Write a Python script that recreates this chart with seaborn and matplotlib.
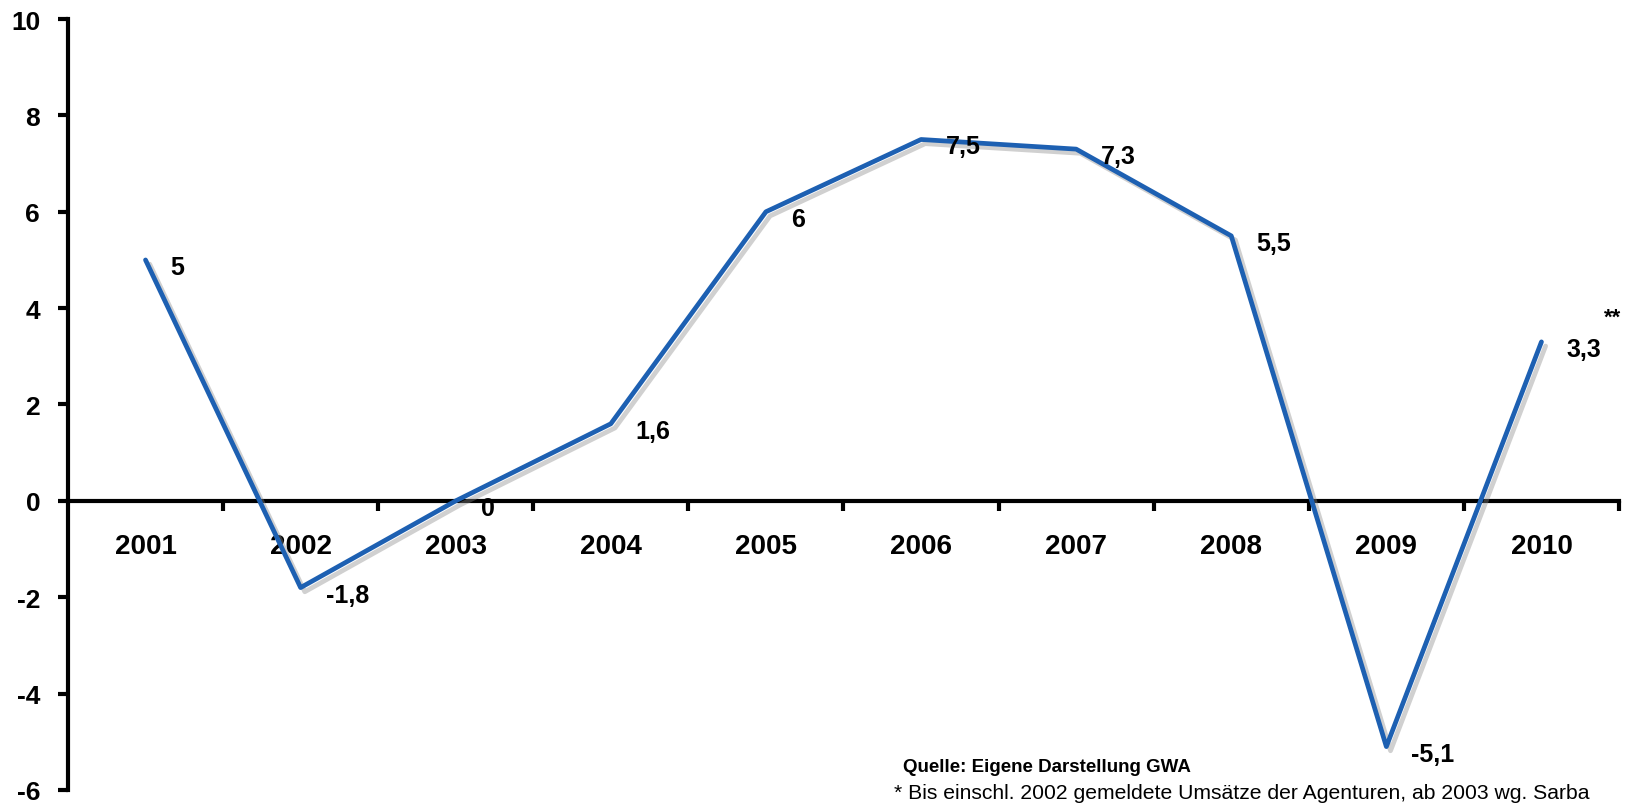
import matplotlib
matplotlib.use("Agg")
import matplotlib.pyplot as plt
import matplotlib.patheffects as pe
import seaborn as sns
import pandas as pd

years = ["2001", "2002", "2003", "2004", "2005", "2006", "2007", "2008", "2009", "2010"]
values = [5, -1.8, 0, 1.6, 6, 7.5, 7.3, 5.5, -5.1, 3.3]
value_labels = ["5", "-1,8", "0", "1,6", "6", "7,5", "7,3", "5,5", "-5,1", "3,3"]
y_ticks = [-6, -4, -2, 0, 2, 4, 6, 8, 10]
source_text = "Quelle: Eigene Darstellung GWA"
footnote_text = "* Bis einschl. 2002 gemeldete Umsätze der Agenturen, ab 2003 wg. Sarba"

sns.set_theme(style="white")
plt.rcParams["font.family"] = ["Liberation Sans", "DejaVu Sans"]
plt.rcParams["text.color"] = "black"
plt.rcParams["xtick.color"] = "black"
plt.rcParams["ytick.color"] = "black"
plt.rcParams["xtick.labelcolor"] = "black"
plt.rcParams["ytick.labelcolor"] = "black"

df = pd.DataFrame({"Jahr": years, "Wert": values})

fig = plt.figure(figsize=(16.26, 8.04), dpi=100)
ax = fig.add_axes([0.0418, 0.0162, 0.9539, 0.9589])

sns.lineplot(data=df, x="Jahr", y="Wert", ax=ax, color="#1d60b2", linewidth=3.4,
             sort=False, zorder=5,
             path_effects=[pe.SimpleLineShadow(offset=(3, -3), shadow_color="#8a8a8a", alpha=0.4),
                           pe.Normal()])

ax.set_xlim(-0.5, len(years) - 0.5)
ax.set_ylim(-6, 10)
ax.set_xlabel("")
ax.set_ylabel("")

for s in ["top", "right"]:
    ax.spines[s].set_visible(False)
ax.spines["left"].set_linewidth(3)
ax.spines["left"].set_color("black")
ax.spines["bottom"].set_position(("data", 0))
ax.spines["bottom"].set_linewidth(3)
ax.spines["bottom"].set_color("black")
ax.spines["bottom"].set_zorder(3)

ax.set_yticks(y_ticks)
ax.set_yticklabels([str(t) for t in y_ticks], fontsize=19, fontweight="bold")
ax.tick_params(axis="y", direction="out", length=7, width=3, color="black", pad=13, left=True)

# x-axis: major ticks at category boundaries, labels at centres
ax.set_xticks([i + 0.5 for i in range(len(years))])
ax.set_xticklabels([])
ax.set_xticks(range(len(years)), minor=True)
ax.set_xticklabels(years, minor=True, fontsize=20, fontweight="bold")
ax.tick_params(axis="x", which="major", direction="out", length=7, width=3, color="black", bottom=True)
ax.tick_params(axis="x", which="minor", length=0, pad=23)

for i, (v, lab) in enumerate(zip(values, value_labels)):
    ax.annotate(lab, (i, v), xytext=(18, -5), textcoords="offset points",
                ha="left", va="center", fontsize=18, fontweight="bold", zorder=6)

fig.text(1613 / 1626, 1 - 318 / 804, "**", fontsize=16, fontweight="bold", ha="center", va="center")
fig.text(903 / 1626, 1 - 768 / 804, source_text, fontsize=13.5, fontweight="bold", ha="left", va="center")
fig.text(894 / 1626, 1 - 794 / 804, footnote_text, fontsize=15.2, ha="left", va="center")

fig.savefig("out.png", dpi=100)
